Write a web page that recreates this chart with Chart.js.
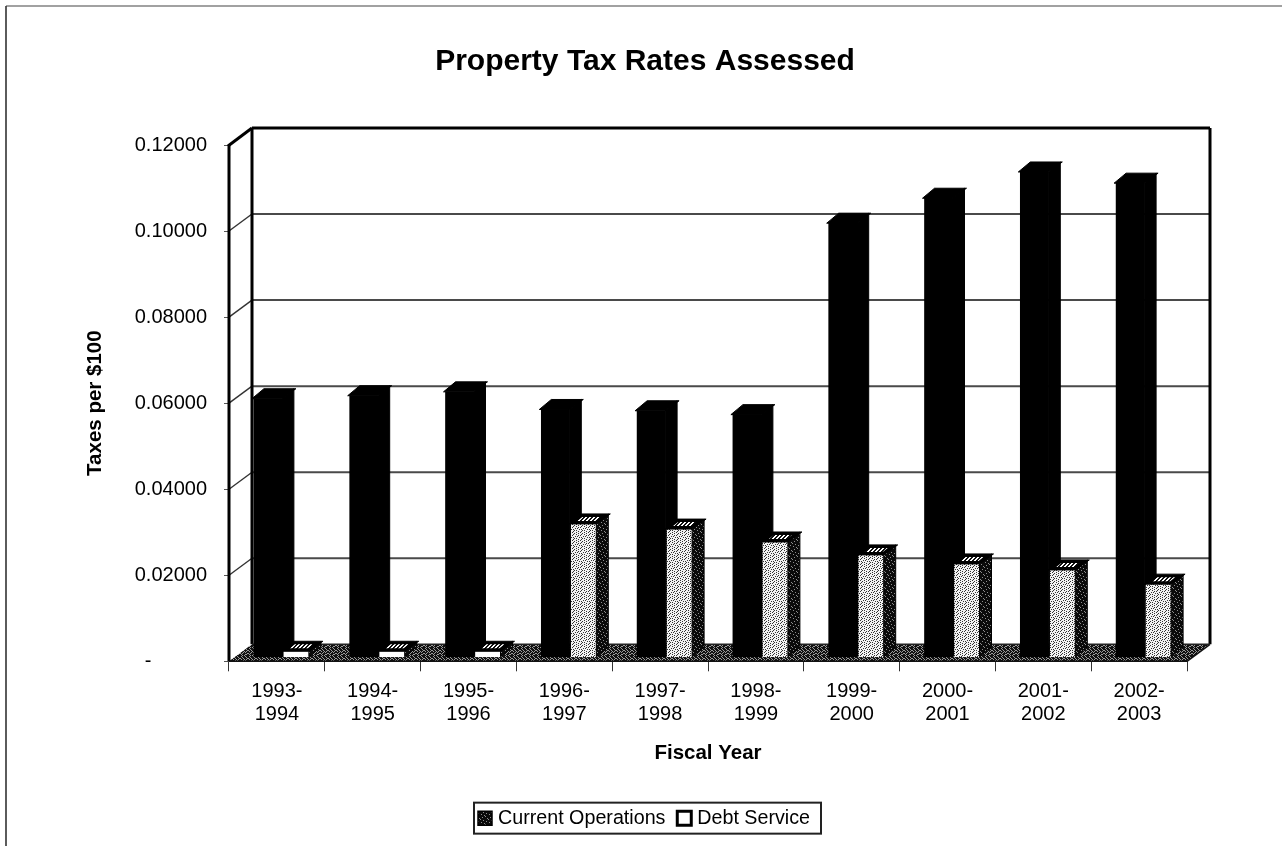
<!DOCTYPE html>
<html>
<head>
<meta charset="utf-8">
<style>html,body{margin:0;padding:0;background:#fff}canvas{display:block}</style>
<script src="https://cdn.jsdelivr.net/npm/chart.js@4/dist/chart.umd.js"></script>
</head>
<body>
<canvas id="c" width="1282" height="846"></canvas>
<script>
const categories = [['1993-','1994'],['1994-','1995'],['1995-','1996'],['1996-','1997'],['1997-','1998'],['1998-','1999'],['1999-','2000'],['2000-','2001'],['2001-','2002'],['2002-','2003']];
const currentOperations = [0.0601,0.0608,0.0617,0.0576,0.0573,0.0564,0.1009,0.1067,0.1128,0.1102];
const debtService = [0.0014,0.0014,0.0014,0.0310,0.0298,0.0268,0.0238,0.0217,0.0203,0.0170];
const chartTitle = 'Property Tax Rates Assessed';
const xTitle = 'Fiscal Year';
const yTitle = 'Taxes per $100';

const FONT = '"Liberation Sans", Arial, sans-serif';
const WALL = {dx:23, dy:-17};
const BAR = {dx:12, dy:-10, liftY:-4};

function tile(rows, fg, bg){
  const n = rows.length, c = document.createElement('canvas');
  c.width = rows[0].length; c.height = n;
  const g = c.getContext('2d');
  g.fillStyle = bg; g.fillRect(0,0,c.width,n);
  g.fillStyle = fg;
  rows.forEach((r,y)=>[...r].forEach((b,x)=>{ if(b==='1') g.fillRect(x,y,1,1); }));
  return g.createPattern(c,'repeat');
}
const lightRows = ['10001000','00100010','10000100','00101000','01000001','00010100','10000010','00100100'];
const darkRows = ['10111011','11011101','01101110','10110101','11101011','01011110','10111001','11010111'];
const deepRows = ['11111011','11011111','11111110','01111111','11101111','11111101','10111111','11110111'];
const hatchRows = ['0011','0110','1100','1001'];
const fillLight = tile(lightRows,'#333','#f2f2f2');
const fillFloor = tile(darkRows,'#111','#9a9a9a');
const fillSide = tile(deepRows,'#0a0a0a','#8c8c8c');
const fillTop = tile(hatchRows,'#fff','#111');

function poly(ctx, pts, fill, stroke, lw){
  ctx.beginPath();
  pts.forEach((p,i)=> i ? ctx.lineTo(p[0],p[1]) : ctx.moveTo(p[0],p[1]));
  ctx.closePath();
  if(fill){ ctx.fillStyle = fill; ctx.fill(); }
  if(stroke){ ctx.strokeStyle = stroke; ctx.lineWidth = lw||1; ctx.stroke(); }
}
function seg(ctx,x1,y1,x2,y2,color,lw){
  ctx.beginPath(); ctx.moveTo(x1,y1); ctx.lineTo(x2,y2);
  ctx.strokeStyle = color; ctx.lineWidth = lw; ctx.stroke();
}

const room = {
  id:'room',
  afterLayout(chart){
    const t = chart.titleBlock, l = chart.legend;
    t.left = 4; t.right = 1286;
    const lab = l.options.labels;
    const start = (l.left + lab.padding + l.right - l.lineWidths[0]) / 2;
    const delta = 498 - (start + lab.boxWidth + lab.font.size/2);
    l.left += delta; l.right += delta;
  },
  beforeDatasetsDraw(chart){
    const {ctx, chartArea:a, scales:{y}} = chart;
    ctx.save();
    seg(ctx,6,6,1282,6,'#444',1.2);
    seg(ctx,6,6,6,846,'#333',1.6);
    const bx0 = a.left+WALL.dx, bx1 = a.right+WALL.dx, by0 = y.getPixelForValue(0);
    poly(ctx,[[a.left,by0],[bx0,by0+WALL.dy],[bx1,by0+WALL.dy],[a.right,by0]],fillFloor);
    y.ticks.forEach(t=>{
      if(t.value<=0 || t.value>=y.max) return;
      const py = y.getPixelForValue(t.value);
      seg(ctx,a.left,py,bx0,py+WALL.dy,'#333',1.4);
      seg(ctx,bx0,py+WALL.dy,bx1,py+WALL.dy,'#4a4a4a',2);
    });
    const top = y.getPixelForValue(y.max);
    seg(ctx,a.left,top,a.left,by0,'#000',3);
    seg(ctx,bx0,top+WALL.dy,bx0,by0+WALL.dy,'#000',3);
    seg(ctx,a.left-1,top+1,bx0,top+WALL.dy,'#000',3);
    seg(ctx,bx0,top+WALL.dy,bx1,top+WALL.dy,'#000',3);
    seg(ctx,bx1,top+WALL.dy,bx1,by0+WALL.dy,'#000',3);
    seg(ctx,bx1,by0+WALL.dy,a.right,by0,'#111',1.5);
    seg(ctx,a.left,by0,a.right,by0,'#111',1.5);
    seg(ctx,bx0,by0+WALL.dy,bx1,by0+WALL.dy,'#222',1.5);
    ctx.restore();
  },
  beforeDatasetDraw(chart,args){
    const ds = chart.data.datasets[args.index];
    chart.ctx.save();
    chart.ctx.translate(ds.shiftX, BAR.liftY);
  },
  afterDatasetDraw(chart,args){
    const ctx = chart.ctx, ds = chart.data.datasets[args.index];
    args.meta.data.forEach(el=>{
      const l = el.x-el.width/2, r = el.x+el.width/2, t = el.y, b = el.base;
      poly(ctx,[[r,t],[r+BAR.dx,t+BAR.dy],[r+BAR.dx,b+BAR.dy],[r,b]],ds.sideFill,'#000',1);
      poly(ctx,[[l-2,t],[l+BAR.dx-2,t+BAR.dy],[r+BAR.dx+2,t+BAR.dy],[r,t]],'#000','#000',1);
      if(ds.topFill){
        poly(ctx,[[l+6,t-3],[l+11,t-7],[r+4,t-7],[r-1,t-3]],ds.topFill);
      }
    });
    ctx.restore();
  },
  afterDraw(chart){
    const {ctx, legend} = chart;
    ctx.save();
    const size = legend.options.labels.font.size, bw = legend.options.labels.boxWidth;
    const hb = legend.legendHitBoxes;
    const cy = hb[0].top + hb[0].height/2;
    ctx.strokeStyle = '#222'; ctx.lineWidth = 2;
    ctx.strokeRect(hb[0].left+bw+size/2-24, cy-15.5, 347, 31);
    hb.forEach((h,i)=>{
      const x = h.left+bw+size/2-20;
      poly(ctx,[[x,cy-7],[x+14,cy-7],[x+14,cy+7],[x,cy+7]], i===0 ? fillSide : '#fff', '#000', i===0 ? 1.5 : 3);
    });
    ctx.restore();
  }
};

new Chart(document.getElementById('c'),{
  type:'bar',
  data:{
    labels:categories,
    datasets:[
      {label:'Current Operations',data:currentOperations,backgroundColor:'#000',borderWidth:0,barThickness:28,order:1,shiftX:-23,sideFill:'#000',topFill:null},
      {label:'Debt Service',data:debtService,backgroundColor:(c)=> c.raw < 0.005 ? '#fff' : fillLight,borderWidth:0,barThickness:25,order:0,shiftX:32,sideFill:fillSide,topFill:fillTop}
    ]
  },
  plugins:[room],
  options:{
    responsive:false,
    animation:false,
    events:[],
    font:{family:FONT},
    layout:{padding:{left:0,right:95,top:0,bottom:8},autoPadding:false},
    plugins:{
      tooltip:{enabled:false},
      title:{display:true,text:chartTitle,color:'#000',font:{family:FONT,size:30,weight:'bold',lineHeight:1.2},padding:{top:44,bottom:65}},
      legend:{
        display:true,position:'bottom',
        labels:{
          color:'#000',font:{family:FONT,size:19.7},boxWidth:10,boxHeight:10,padding:12,
          generateLabels:(chart)=>chart.data.datasets.map((d,i)=>({text:d.label,fillStyle:'rgba(0,0,0,0)',strokeStyle:'rgba(0,0,0,0)',lineWidth:0,hidden:false,datasetIndex:i}))
        }
      }
    },
    scales:{
      x:{
        afterFit(s){ s.height = 135; },
        grid:{drawOnChartArea:false,drawTicks:true,tickLength:10,tickColor:'#333',offset:true},
        border:{display:false},
        ticks:{color:'#000',font:{family:FONT,size:20,lineHeight:1.15},padding:9,autoSkip:false,maxRotation:0,minRotation:0},
        title:{display:true,text:xTitle,color:'#000',font:{family:FONT,size:20.5,weight:'bold',lineHeight:1.2},padding:{top:0,bottom:31}}
      },
      y:{
        afterFit(s){ s.width = 229; },
        min:0,max:0.12,
        grid:{drawOnChartArea:false,drawTicks:true,tickLength:5,tickColor:'#555'},
        border:{display:false},
        ticks:{
          stepSize:0.02,color:'#000',font:{family:FONT,size:20},padding:17,
          callback:(v)=> v===0 ? '-' + '\u00a0'.repeat(10) : Number(v).toFixed(5)
        },
        title:{display:true,text:yTitle,color:'#000',font:{family:FONT,size:20.5,weight:'bold',lineHeight:1.2},padding:{top:83,bottom:0}}
      }
    }
  }
});
</script>
</body>
</html>
